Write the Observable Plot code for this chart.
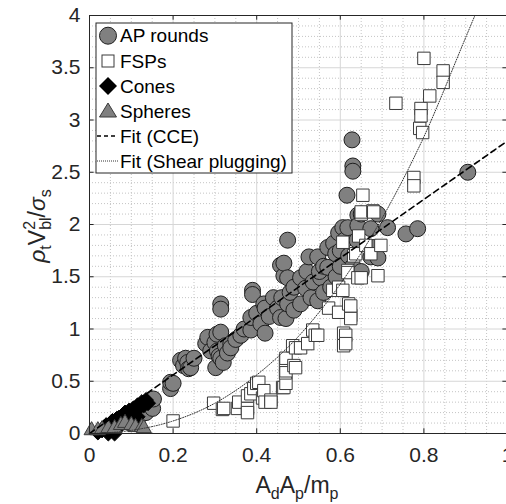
<!DOCTYPE html>
<html>
<head>
<meta charset="utf-8">
<script src="https://cdn.jsdelivr.net/npm/d3@7"></script>
<script src="https://cdn.jsdelivr.net/npm/@observablehq/plot@0.6"></script>
<style>
  html, body { margin: 0; padding: 0; background: #fff; }
  svg { display: block; }
</style>
</head>
<body>
<div id="chart"></div>
<script>
// ---- data ----
const apX = [0.12,0.135,0.151,0.153,0.194,0.194,0.2,0.218,0.225,0.23,0.235,0.237,0.242,0.25,0.278,0.283,0.29,0.30,0.302,0.306,0.305,0.31,0.314,0.314,0.314,0.314,0.32,0.325,0.33,0.338,0.338,0.35,0.362,0.37,0.386,0.386,0.39,0.39,0.40,0.41,0.417,0.42,0.42,0.43,0.44,0.45,0.457,0.457,0.46,0.465,0.465,0.47,0.474,0.474,0.474,0.48,0.489,0.489,0.505,0.505,0.517,0.52,0.525,0.53,0.535,0.546,0.546,0.553,0.55,0.56,0.56,0.57,0.57,0.577,0.584,0.589,0.59,0.596,0.6,0.6,0.606,0.61,0.616,0.618,0.62,0.628,0.63,0.63,0.63,0.64,0.642,0.642,0.65,0.65,0.673,0.673,0.68,0.69,0.69,0.713,0.757,0.785,0.905];
const apY = [0.17,0.2,0.24,0.33,0.43,0.49,0.48,0.70,0.65,0.72,0.68,0.62,0.63,0.72,0.86,0.92,0.79,0.87,0.63,0.79,0.95,0.74,0.72,0.97,1.24,1.19,0.68,0.84,0.77,0.86,0.82,0.9,0.94,1.0,0.99,1.11,1.37,1.33,1.15,1.05,1.24,0.96,1.2,1.12,1.30,1.2,1.11,1.61,1.3,1.51,1.63,1.1,1.24,1.85,1.49,1.35,1.40,1.18,1.24,1.49,1.39,1.55,1.69,1.3,1.45,1.69,1.27,1.49,1.55,1.6,1.35,1.59,1.78,1.40,1.82,1.72,1.5,1.92,1.6,1.75,1.97,1.85,2.28,1.97,1.7,2.81,2.56,2.51,1.6,1.85,2.09,1.99,2.1,1.55,1.96,1.69,1.78,2.1,1.68,1.97,1.91,1.96,2.5];

const fspX = [0.2,0.297,0.318,0.321,0.354,0.357,0.378,0.378,0.378,0.386,0.393,0.40,0.405,0.414,0.417,0.42,0.434,0.434,0.462,0.465,0.47,0.469,0.47,0.469,0.47,0.486,0.489,0.493,0.493,0.505,0.522,0.534,0.54,0.546,0.572,0.582,0.596,0.596,0.606,0.606,0.608,0.608,0.613,0.613,0.618,0.618,0.62,0.625,0.625,0.625,0.632,0.637,0.642,0.644,0.65,0.65,0.65,0.654,0.661,0.673,0.678,0.68,0.69,0.697,0.733,0.776,0.776,0.79,0.793,0.793,0.797,0.80,0.814,0.846,0.846];
const fspY = [0.12,0.29,0.23,0.24,0.24,0.30,0.24,0.20,0.36,0.38,0.43,0.48,0.49,0.34,0.41,0.30,0.32,0.30,0.44,0.44,0.48,0.58,0.60,0.70,0.72,0.84,0.65,0.63,0.82,0.82,0.86,0.99,0.94,0.94,1.20,1.37,1.40,1.16,1.37,1.83,0.96,0.84,0.94,0.86,1.56,1.54,1.24,1.13,1.22,1.10,1.70,1.72,1.49,1.89,1.49,2.10,2.12,2.28,1.80,1.72,2.13,2.12,1.51,1.80,3.16,2.45,2.37,2.92,3.11,3.04,2.88,3.59,3.23,3.47,3.36];

const coneX = [0.02,0.03,0.035,0.04,0.045,0.05,0.055,0.06,0.065,0.07,0.075,0.08,0.085,0.09,0.095,0.1,0.105,0.11,0.115,0.12,0.125,0.13,0.135,0.14,0.05,0.07,0.09,0.045,0.06,0.1,0.115];
const coneY = [0.01,0.03,0.06,0.08,0.05,0.1,0.12,0.09,0.14,0.15,0.12,0.18,0.2,0.17,0.22,0.2,0.24,0.22,0.27,0.25,0.3,0.27,0.32,0.29,0.03,0.06,0.1,0.0,0.0,0.12,0.16];

const sphX = [0.005,0.02,0.03,0.045,0.06,0.075,0.085,0.1,0.11,0.125,0.13];
const sphY = [0.03,0.03,0.04,0.05,0.05,0.08,0.10,0.08,0.06,0.06,0.05];

// fit curves
const cceX = [0, 1];
const cceY = [0, 2.8];
const shearX = [0, 0.1, 0.2, 0.3, 0.4, 0.5, 0.6, 0.7, 0.8, 0.9, 0.922];
const shearY = [0, 0.03, 0.12, 0.29, 0.56, 0.93, 1.43, 2.06, 2.84, 3.79, 4.0];

// axes ticks
const xTicks = [0, 0.2, 0.4, 0.6, 0.8, 1];
const yTicks = [0, 0.5, 1, 1.5, 2, 2.5, 3, 3.5, 4];
const xMinor = [0.05,0.1,0.15,0.25,0.3,0.35,0.45,0.5,0.55,0.65,0.7,0.75,0.85,0.9,0.95];
const yMinor = [0.1,0.2,0.3,0.4,0.6,0.7,0.8,0.9,1.1,1.2,1.3,1.4,1.6,1.7,1.8,1.9,2.1,2.2,2.3,2.4,2.6,2.7,2.8,2.9,3.1,3.2,3.3,3.4,3.6,3.7,3.8,3.9];

const legendLabels = ["AP rounds", "FSPs", "Cones", "Spheres", "Fit (CCE)", "Fit (Shear plugging)"];

// ---- build tables ----
const zip = (xs, ys) => xs.map((x, i) => ({x, y: ys[i]}));
const ap = zip(apX, apY), fsp = zip(fspX, fspY), cone = zip(coneX, coneY), sph = zip(sphX, sphY);
const cce = zip(cceX, cceY), shear = zip(shearX, shearY);

const diamondSym = {
  draw(ctx, size) {
    const h = Math.sqrt(size / 2);
    ctx.moveTo(0, -h); ctx.lineTo(h, 0); ctx.lineTo(0, h); ctx.lineTo(-h, 0); ctx.closePath();
  }
};

const ink = "#262626";
const tickLx = 0.011, tickLy = 0.045;
const FONT = "'Liberation Sans', Arial, sans-serif";

const chart = Plot.plot({
  width: 506,
  height: 504,
  marginLeft: 89,
  marginRight: 0,
  marginTop: 15,
  marginBottom: 71,
  x: {domain: [0, 1], range: [89, 507]},
  y: {domain: [0, 4], range: [433, 15]},
  style: {fontFamily: FONT, background: "#fff", color: ink},
  marks: [
    // minor grid
    Plot.ruleX(xMinor, {stroke: "#c4c4c4", strokeDasharray: "1,2", strokeWidth: 1}),
    Plot.ruleY(yMinor, {stroke: "#c4c4c4", strokeDasharray: "1,2", strokeWidth: 1}),
    // major grid
    Plot.ruleX(xTicks, {stroke: "#d6d6d6", strokeWidth: 1}),
    Plot.ruleY(yTicks, {stroke: "#d6d6d6", strokeWidth: 1}),
    // data
    Plot.dot(ap, {x: "x", y: "y", r: 8, fill: "#808080", stroke: "#1e1e1e", strokeWidth: 1}),
    Plot.dot(fsp, {x: "x", y: "y", symbol: "square", r: 7, fill: "#fff", stroke: "#3a3a3a", strokeWidth: 1}),
    Plot.dot(cone, {x: "x", y: "y", symbol: diamondSym, r: 6, fill: "#000", stroke: "#000", strokeWidth: 1}),
    Plot.dot(sph, {x: "x", y: "y", symbol: "triangle", r: 5.6, fill: "#808080", stroke: "#3a3a3a", strokeWidth: 1}),
    // fits
    Plot.line(cce, {x: "x", y: "y", stroke: "#000", strokeWidth: 1.6, strokeDasharray: "6,4"}),
    Plot.line(shear, {x: "x", y: "y", curve: "monotone-x", stroke: "#333", strokeWidth: 1, strokeDasharray: "1,1.5"}),
    // box
    Plot.ruleY([0], {stroke: ink, strokeWidth: 1}),
    Plot.ruleY([4], {stroke: ink, strokeWidth: 1}),
    Plot.ruleX([0], {stroke: ink, strokeWidth: 1}),
    Plot.ruleX([1], {stroke: ink, strokeWidth: 1}),
    // inward ticks
    Plot.ruleX(xTicks, {y1: 0, y2: tickLy, stroke: ink}),
    Plot.ruleX(xTicks, {y1: 4, y2: 4 - tickLy, stroke: ink}),
    Plot.ruleY(yTicks, {x1: 0, x2: tickLx, stroke: ink}),
    Plot.ruleY(yTicks, {x1: 1, x2: 1 - tickLx, stroke: ink}),
    // tick labels
    Plot.axisX({ticks: xTicks, tickSize: 0, tickPadding: 14, fontSize: 21, label: null, tickFormat: d => String(d)}),
    Plot.axisY({ticks: yTicks, tickSize: 0, tickPadding: 9, fontSize: 21, label: null, tickFormat: d => String(d)})
  ]
});

document.getElementById("chart").appendChild(chart);

// ---- axis labels with sub/superscripts ----
const svg = d3.select(chart);
const xl = svg.append("text")
  .attr("x", 297).attr("y", 493)
  .attr("text-anchor", "middle").attr("font-size", 23).attr("fill", ink)
  .attr("font-family", FONT);
xl.append("tspan").text("A");
xl.append("tspan").attr("font-size", 16).attr("dy", 6).text("d");
xl.append("tspan").attr("dy", -6).text("A");
xl.append("tspan").attr("font-size", 16).attr("dy", 6).text("p");
xl.append("tspan").attr("dy", -6).text("/m");
xl.append("tspan").attr("font-size", 16).attr("dy", 6).text("p");

const yl = svg.append("text")
  .attr("transform", "translate(45,226) rotate(-90)")
  .attr("text-anchor", "middle").attr("font-size", 23).attr("fill", ink)
  .attr("font-family", FONT);
yl.append("tspan").attr("font-style", "italic").text("ρ");
yl.append("tspan").attr("font-size", 16).attr("dy", 6).text("t");
yl.append("tspan").attr("dy", -6).text("V");
yl.append("tspan").attr("font-size", 16).attr("dy", -10).text("2");
yl.append("tspan").attr("font-size", 16).attr("dx", -8.9).attr("dy", 16).text("bl");
yl.append("tspan").attr("dy", -6).text("/");
yl.append("tspan").attr("font-style", "italic").text("σ");
yl.append("tspan").attr("font-size", 16).attr("dy", 6).text("s");

// ---- legend (inside the axes, top-left) ----
const lg = svg.append("g").attr("font-family", FONT).attr("text-anchor", "start");
lg.append("rect").attr("x", 96).attr("y", 23).attr("width", 196).attr("height", 150)
  .attr("fill", "#fff").attr("stroke", ink).attr("stroke-width", 1);
const rowY = [35.7, 61, 86, 111, 136, 161];
const mx = 108;
lg.append("circle").attr("cx", mx).attr("cy", rowY[0]).attr("r", 8.5)
  .attr("fill", "#808080").attr("stroke", "#1e1e1e");
lg.append("rect").attr("x", mx - 6).attr("y", rowY[1] - 6).attr("width", 12).attr("height", 12)
  .attr("fill", "#fff").attr("stroke", "#3a3a3a");
lg.append("path").attr("d", `M${mx},${rowY[2]-9}L${mx+9},${rowY[2]}L${mx},${rowY[2]+9}L${mx-9},${rowY[2]}Z`)
  .attr("fill", "#000");
lg.append("path").attr("d", `M${mx},${rowY[3]-8}L${mx+8.5},${rowY[3]+6}L${mx-8.5},${rowY[3]+6}Z`)
  .attr("fill", "#808080").attr("stroke", "#3a3a3a");
lg.append("line").attr("x1", 97).attr("x2", 118).attr("y1", rowY[4]).attr("y2", rowY[4])
  .attr("stroke", "#000").attr("stroke-width", 1.3).attr("stroke-dasharray", "4,3");
lg.append("line").attr("x1", 97).attr("x2", 118).attr("y1", rowY[5]).attr("y2", rowY[5])
  .attr("stroke", "#333").attr("stroke-width", 1).attr("stroke-dasharray", "1,1");
legendLabels.forEach((t, i) => {
  lg.append("text").attr("x", 120).attr("y", rowY[i]).attr("dy", "0.35em")
    .attr("text-anchor", "start")
    .attr("font-size", 19).attr("fill", "#000").text(t);
});
</script>
</body>
</html>
